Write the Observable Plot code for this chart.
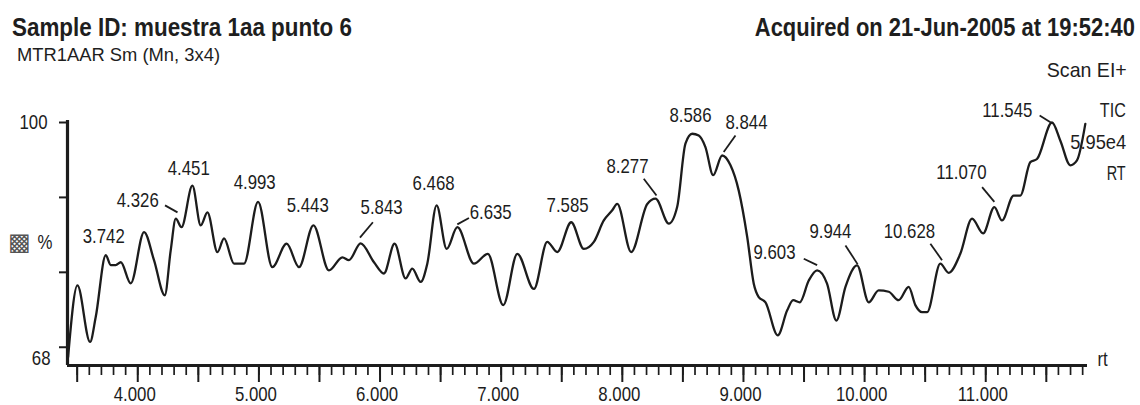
<!DOCTYPE html>
<html><head><meta charset="utf-8">
<script src="https://cdn.jsdelivr.net/npm/d3@7"></script>
<script src="https://cdn.jsdelivr.net/npm/@observablehq/plot@0.6"></script>
<style>
html,body{margin:0;padding:0;background:#fff;}
#wrap{position:relative;width:1140px;height:405px;overflow:hidden;font-family:"Liberation Sans",Arial,sans-serif;color:#1e1e1e;}
#wrap svg{position:absolute;left:0;top:0;}
.t{position:absolute;white-space:nowrap;line-height:1;}
</style></head><body><div id="wrap"></div>
<script>
// Retention time (min) and relative intensity (%) of the TIC trace
const rt = [3.425,3.502,3.606,3.653,3.736,3.777,3.818,3.860,3.942,4.052,4.134,4.223,4.272,4.314,4.361,4.451,4.520,4.575,4.658,4.712,4.795,4.877,4.993,5.111,5.229,5.331,5.450,5.578,5.689,5.743,5.840,5.950,6.032,6.120,6.211,6.266,6.335,6.390,6.467,6.550,6.638,6.775,6.890,7.017,7.133,7.270,7.380,7.463,7.578,7.682,7.765,7.847,7.917,7.958,8.073,8.206,8.274,8.384,8.453,8.521,8.577,8.631,8.686,8.750,8.824,8.893,8.961,9.031,9.085,9.126,9.182,9.283,9.361,9.410,9.465,9.539,9.608,9.690,9.767,9.842,9.938,10.034,10.116,10.199,10.281,10.364,10.419,10.474,10.516,10.625,10.694,10.790,10.887,10.978,11.071,11.134,11.230,11.285,11.368,11.423,11.547,11.616,11.698,11.753,11.822];
const intensity = [66.6,76.8,68.75,72.3,81.1,79.7,79.7,80.1,77.1,84.4,80.4,75.4,81.8,86.3,85.1,91.0,85.35,87.2,81.55,83.5,79.9,79.9,88.7,79.4,82.75,79.4,85.35,78.95,80.8,80.4,82.8,80.1,78.5,82.75,77.8,79.2,77.3,79.9,88.2,82.0,85.1,79.9,81.3,74.0,81.3,76.3,83.0,81.55,85.8,82.0,83.0,86.05,87.5,88.4,81.55,88.4,89.15,85.6,88.0,97.0,98.4,98.15,96.5,92.5,95.3,93.9,90.3,83.7,77.05,75.15,74.4,69.7,73.25,74.7,74.4,77.5,78.95,77.05,71.8,76.6,79.65,74.4,76.1,75.9,74.7,76.6,74.0,73.0,73.0,79.9,78.6,81.3,86.3,84.2,87.95,86.05,89.6,89.6,94.35,94.8,100,97.4,93.9,94.6,99.8];

// Peak annotations (label text and where it sits, in rt / %)
const peakNames = ["3.742","4.326","4.451","4.993","5.443","5.843","6.468","6.635","7.585","8.277","8.586","8.844","9.603","9.944","10.628","11.070","11.545"];
const peakLabelRt = [3.719,4.000,4.421,4.965,5.403,6.013,6.442,6.913,7.548,8.043,8.563,9.025,9.256,9.718,10.370,10.799,11.178];
const peakLabelPct = [83.8,88.9,93.5,91.5,88.2,87.9,91.3,87.2,88.2,93.7,101.1,100.1,81.5,84.5,84.5,92.9,101.7];

// Leader lines from label to peak
const leaderRt1 = [4.225,5.941,6.734,8.177,8.934,9.498,9.842,10.543,10.970,11.445];
const leaderPct1 = [88.2,85.8,86.4,92.0,98.15,80.6,82.5,82.75,90.8,101.0];
const leaderRt2 = [4.328,5.834,6.638,8.282,8.837,9.608,9.943,10.639,11.071,11.547];
const leaderPct2 = [87.2,83.6,85.5,89.6,95.8,79.7,79.8,80.4,88.7,99.9];

// Axes
const xDomain = [3.42, 11.84];
const yDomain = [65.4, 100];
const xMinorTicks = d3.range(35, 119).map(d => d / 10);
const xMajorTicks = d3.range(7, 24).map(d => d / 2);
const xLabelTicks = [4, 5, 6, 7, 8, 9, 10, 11];
const yTicks = [68, 68 + 32 / 3, 68 + 64 / 3, 100];
const yTickLabels = ["100", "68"];

const title = "Sample ID: muestra 1aa punto 6";
const acquired = "Acquired on 21-Jun-2005 at 19:52:40";
const subtitle = "MTR1AAR Sm (Mn, 3x4)";
const rightNotes = ["Scan EI+", "TIC", "5.95e4", "RT"];

const ink = "#1c1c1c";
const data = rt.map((r, i) => ({rt: r, pct: intensity[i]}));
const labels = peakNames.map((n, i) => ({name: n, rt: peakLabelRt[i], pct: peakLabelPct[i]}));
const leaders = leaderRt1.map((r, i) => ({x1: r, y1: leaderPct1[i], x2: leaderRt2[i], y2: leaderPct2[i]}));

const chart = Plot.plot({
  width: 1140, height: 405,
  marginLeft: 67, marginRight: 53, marginTop: 122, marginBottom: 40,
  style: {fontFamily: '"Liberation Sans", Arial, sans-serif', color: ink, background: "transparent"},
  x: {domain: xDomain, axis: null, label: null},
  y: {domain: yDomain, axis: null, label: null},
  marks: [
    Plot.axisX({ticks: xMinorTicks, tickSize: 10, tickFormat: () => "", stroke: ink, strokeWidth: 1.7}),
    Plot.axisX({ticks: xMajorTicks, tickSize: 17, tickFormat: () => "", stroke: ink, strokeWidth: 2}),
    Plot.axisX({ticks: xLabelTicks, tickSize: 0, tickPadding: 21, tickFormat: d3.format(".3f"), fontSize: 21, dx: -3, fill: ink}),
    Plot.axisY({ticks: yTicks, tickSize: 8, tickFormat: () => "", stroke: ink, strokeWidth: 2}),
    Plot.ruleY([yDomain[0]], {stroke: ink, strokeWidth: 3.2}),
    Plot.ruleX([xDomain[0]], {y1: yDomain[0], y2: 100.3, stroke: ink, strokeWidth: 3.2}),
    Plot.text([yTickLabels[0]], {x: xDomain[0], y: 100, text: d => d, textAnchor: "end", dx: -20, fontSize: 21, fill: ink}),
    Plot.text([yTickLabels[1]], {x: xDomain[0], y: 68, text: d => d, textAnchor: "end", dx: -17, dy: 11, fontSize: 21, fill: ink}),
    Plot.text(["▩"], {x: xDomain[0], y: 82.9, text: d => d, textAnchor: "end", dx: -37, fontSize: 24, fill: "#555"}),
    Plot.text(["%"], {x: xDomain[0], y: 82.9, text: d => d, textAnchor: "end", dx: -15, fontSize: 21, fill: ink}),
    Plot.text(["rt"], {frameAnchor: "bottom-right", text: d => d, textAnchor: "start", dx: 10, fontSize: 21, fill: ink}),
    Plot.line(data, {x: "rt", y: "pct", stroke: ink, strokeWidth: 2.3, curve: "monotone-x"}),
    Plot.link(leaders, {x1: "x1", y1: "y1", x2: "x2", y2: "y2", stroke: ink, strokeWidth: 1.8}),
    Plot.text(labels, {x: "rt", y: "pct", text: "name", fontSize: 21, fill: ink})
  ]
});

const wrap = document.getElementById("wrap");
wrap.append(chart);

// condense SVG text (Arial-Narrow-like look of the original) without moving it
chart.querySelectorAll("text").forEach(t => {
  if (!t.textContent || t.textContent === "▩") return;
  const L = t.getComputedTextLength();
  if (!(L > 0)) return;
  t.setAttribute("textLength", (L * 0.8).toFixed(2));
  t.setAttribute("lengthAdjust", "spacingAndGlyphs");
});

function place(text, o) {
  const d = document.createElement("div");
  d.className = "t"; d.textContent = text;
  d.style.fontSize = o.size + "px";
  d.style.fontWeight = o.weight || "normal";
  d.style.top = (o.baseline - 0.8465 * o.size) + "px";
  if (o.left != null) { d.style.left = o.left + "px"; d.style.transformOrigin = "left center"; }
  else { d.style.right = (1140 - o.right) + "px"; d.style.transformOrigin = "right center"; }
  wrap.append(d);
  const w = d.getBoundingClientRect().width;
  d.style.transform = `scaleX(${o.width / w})`;
}
place(title, {left: 12, baseline: 36, size: 26, weight: "bold", width: 340});
place(acquired, {right: 1135, baseline: 36, size: 26, weight: "bold", width: 380});
place(subtitle, {left: 17, baseline: 61, size: 18, width: 203});
place(rightNotes[0], {right: 1127, baseline: 77, size: 21, width: 80});
place(rightNotes[1], {right: 1126, baseline: 116.5, size: 21, width: 26});
place(rightNotes[2], {right: 1126, baseline: 149, size: 21, width: 56});
place(rightNotes[3], {right: 1126, baseline: 180, size: 21, width: 19});
</script></body></html>
